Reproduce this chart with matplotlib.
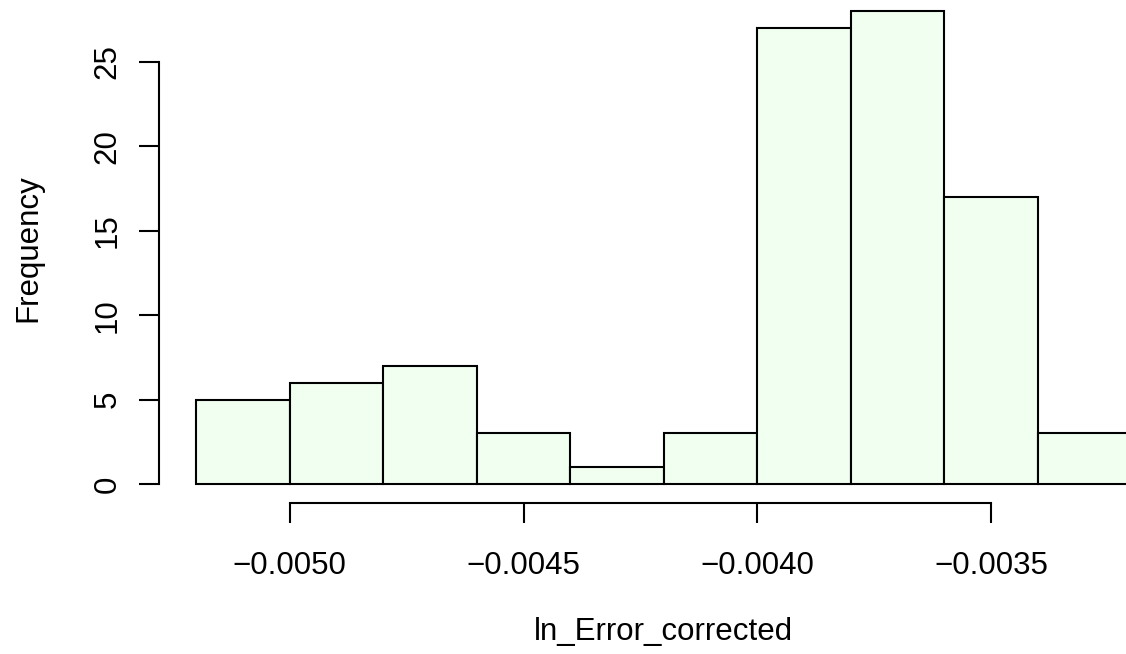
import matplotlib
matplotlib.use("Agg")
import matplotlib.pyplot as plt
import numpy as np

plt.rcParams['font.family'] = ['Liberation Sans', 'DejaVu Sans']

# Data
bin_edges = [-0.0052, -0.0050, -0.0048, -0.0046, -0.0044, -0.0042,
             -0.0040, -0.0038, -0.0036, -0.0034, -0.0032]
counts = [5, 6, 7, 3, 1, 3, 27, 28, 17, 3]
x_ticks = [-0.0050, -0.0045, -0.0040, -0.0035]
x_tick_labels = ["\u22120.0050", "\u22120.0045", "\u22120.0040", "\u22120.0035"]
y_ticks = [0, 5, 10, 15, 20, 25]
y_tick_labels = ["0", "5", "10", "15", "20", "25"]

W, H = 1126, 654
fig = plt.figure(figsize=(W / 100, H / 100), dpi=100)
left_px, right_px, bottom_px, top_px = 159, 1168.5, 503, -7.6
ax = fig.add_axes([left_px / W, (H - bottom_px) / H,
                   (right_px - left_px) / W, (bottom_px - top_px) / H])

widths = np.diff(bin_edges)
ax.bar(bin_edges[:-1], counts, width=widths, align='edge',
       color='#F0FFF0', edgecolor='black', linewidth=1.5)

xmin, xmax = bin_edges[0], bin_edges[-1]
xr = xmax - xmin
ax.set_xlim(xmin - 0.04 * xr, xmax + 0.04 * xr)
ymax = max(counts)
ax.set_ylim(-0.04 * ymax, ymax * 1.04)

for s in ['top', 'right']:
    ax.spines[s].set_visible(False)
ax.spines['bottom'].set_bounds(x_ticks[0], x_ticks[-1])
ax.spines['left'].set_bounds(y_ticks[0], y_ticks[-1])
for s in ['bottom', 'left']:
    ax.spines[s].set_linewidth(1.5)

ax.set_xticks(x_ticks)
ax.set_xticklabels(x_tick_labels)
ax.set_yticks(y_ticks)
ax.set_yticklabels(y_tick_labels, rotation=90, va='center')
ax.tick_params(axis='both', direction='out', length=14.4, width=1.5,
               labelsize=22.5)
ax.tick_params(axis='x', pad=20)
ax.tick_params(axis='y', pad=12)

fig.text(663.5 / W, 1 - 632 / H, "ln_Error_corrected", ha='center', va='center',
         fontsize=22.5)
fig.text(28 / W, 1 - 248 / H, "Frequency", ha='center', va='center',
         rotation=90, fontsize=22.5)

fig.savefig("out.png", dpi=100)
